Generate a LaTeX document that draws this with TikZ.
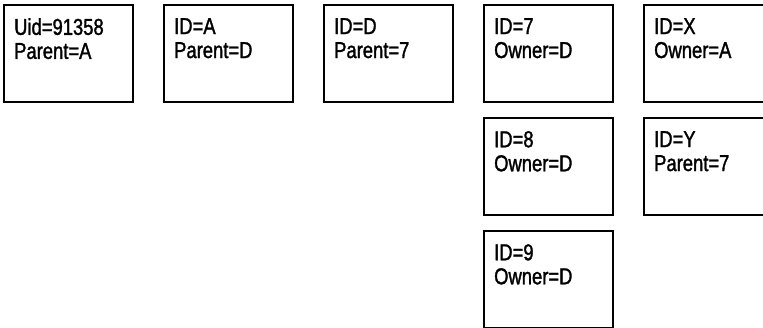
\documentclass[tikz,border=0pt]{standalone}
\usepackage{fontspec}
\setmainfont{Liberation Sans}[FakeStretch=0.8, FakeBold=1.4]
\usetikzlibrary{positioning}
\tikzset{
  recbox/.style={draw, line width=1.8pt, minimum width=129pt, minimum height=97pt, inner sep=0pt, outer sep=0pt, anchor=north west},
  rectxt/.style={anchor=north west, inner sep=0pt, align=left, font=\fontsize{23}{24}\selectfont},
}
\newcommand{\recnode}[4]{%
  \node[recbox] (#1) at (#2,#3) {};
  \node[rectxt] (#1txt) at ([xshift=10pt,yshift=-13pt]#1.north west) {#4};}

\begin{document}
\begin{tikzpicture}[x=1pt, y=-1pt]
  \useasboundingbox (0,0) rectangle (763,327);
  % top row
  \recnode{uid}{4}{5}{Uid=91358\\Parent=A}
  \recnode{ida}{164}{5}{ID=A\\Parent=D}
  \recnode{idd}{324}{5}{ID=D\\Parent=7}
  \recnode{idseven}{484}{5}{ID=7\\Owner=D}
  \recnode{idx}{644}{5}{ID=X\\Owner=A}
  % second row
  \recnode{ideight}{484}{118}{ID=8\\Owner=D}
  \recnode{idy}{644}{118}{ID=Y\\Parent=7}
  % third row
  \recnode{idnine}{484}{231}{ID=9\\Owner=D}
\end{tikzpicture}
\end{document}
